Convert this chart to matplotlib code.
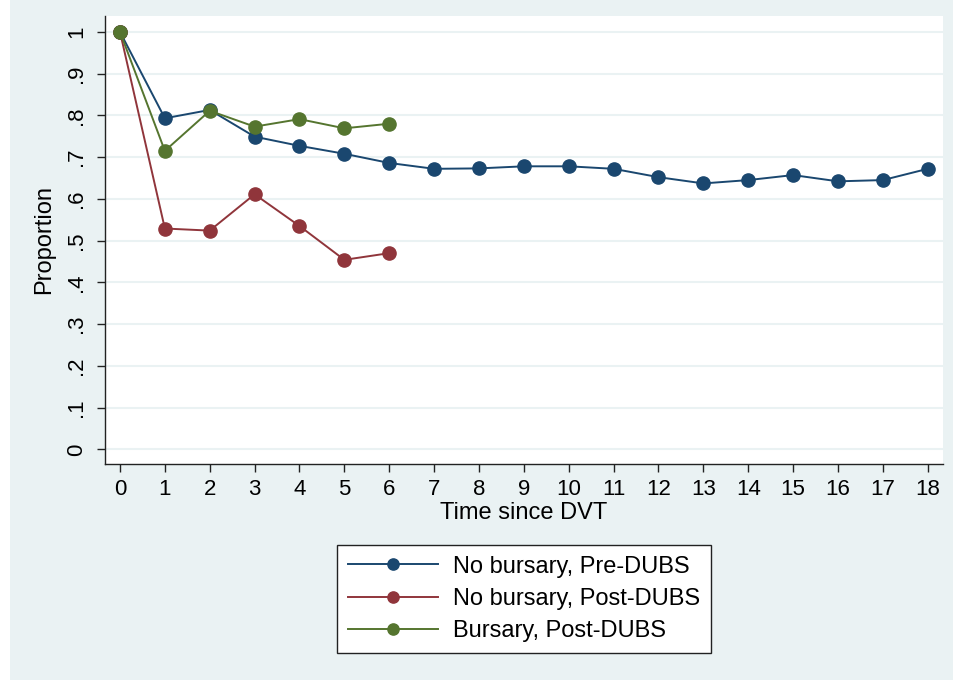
import matplotlib.pyplot as plt

plt.rcParams['font.family'] = ['Liberation Sans', 'DejaVu Sans']

time = list(range(19))
pre_nobursary = [1.0, 0.793, 0.813, 0.749, 0.727, 0.708, 0.686, 0.672, 0.673, 0.678,
                 0.678, 0.672, 0.652, 0.637, 0.645, 0.657, 0.642, 0.645, 0.672]
post_time = list(range(7))
post_nobursary = [1.0, 0.529, 0.524, 0.611, 0.535, 0.454, 0.470]
post_bursary = [1.0, 0.715, 0.811, 0.773, 0.791, 0.769, 0.780]

yticks = [0, 0.1, 0.2, 0.3, 0.4, 0.5, 0.6, 0.7, 0.8, 0.9, 1.0]
ytick_labels = ['0', '.1', '.2', '.3', '.4', '.5', '.6', '.7', '.8', '.9', '1']

bg = '#EAF2F3'
navy = '#1A476F'
maroon = '#90353B'
green = '#55752F'

fig = plt.figure(figsize=(9.54, 6.8), dpi=100)
fig.patch.set_facecolor('white')
# graph region background
fig.patches.append(plt.Rectangle((10 / 954, 0), 943 / 954, 1, transform=fig.transFigure,
                                 facecolor=bg, edgecolor='none', zorder=-10))

ax = fig.add_axes([105 / 954, 1 - 464 / 680, 838 / 954, 448 / 680])
ax.set_facecolor('white')

kw = dict(marker='o', markersize=9.5, linewidth=1.4, zorder=3)
ax.plot(time, pre_nobursary, color=navy, label='No bursary, Pre-DUBS', **kw)
ax.plot(post_time, post_nobursary, color=maroon, label='No bursary, Post-DUBS', **kw)
ax.plot(post_time, post_bursary, color=green, label='Bursary, Post-DUBS', **kw)

ax.set_xlim(-0.334, 18.34)
ax.set_ylim(-0.035, 1.038)
ax.set_xticks(time)
ax.set_yticks(yticks)
ax.set_yticklabels(ytick_labels, rotation=90, va='center')
ax.grid(axis='y', color=bg, linewidth=1.5, zorder=0)
ax.set_axisbelow(True)

for side in ['top', 'right']:
    ax.spines[side].set_visible(False)
for side in ['left', 'bottom']:
    ax.spines[side].set_color('#222222')
    ax.spines[side].set_linewidth(1.0)

ax.tick_params(axis='both', labelsize=16, length=6, width=1.0, color='#222222')
ax.tick_params(axis='y', pad=7)
ax.tick_params(axis='x', pad=5)
ax.set_xlabel('Time since DVT', fontsize=17, labelpad=1)
ax.set_ylabel('Proportion', fontsize=17, labelpad=8)

leg = fig.legend(loc='center', bbox_to_anchor=(524 / 954, 1 - 599 / 680), fontsize=17,
                 frameon=True, fancybox=False, framealpha=1, handlelength=3.8,
                 handletextpad=0.64, labelspacing=0.44, borderpad=0.45, borderaxespad=0,
                 markerscale=0.85)
leg.get_frame().set_edgecolor('#222222')
leg.get_frame().set_linewidth(1.0)
leg.get_frame().set_facecolor('white')

fig.savefig('out.png', dpi=100, facecolor=fig.get_facecolor())
